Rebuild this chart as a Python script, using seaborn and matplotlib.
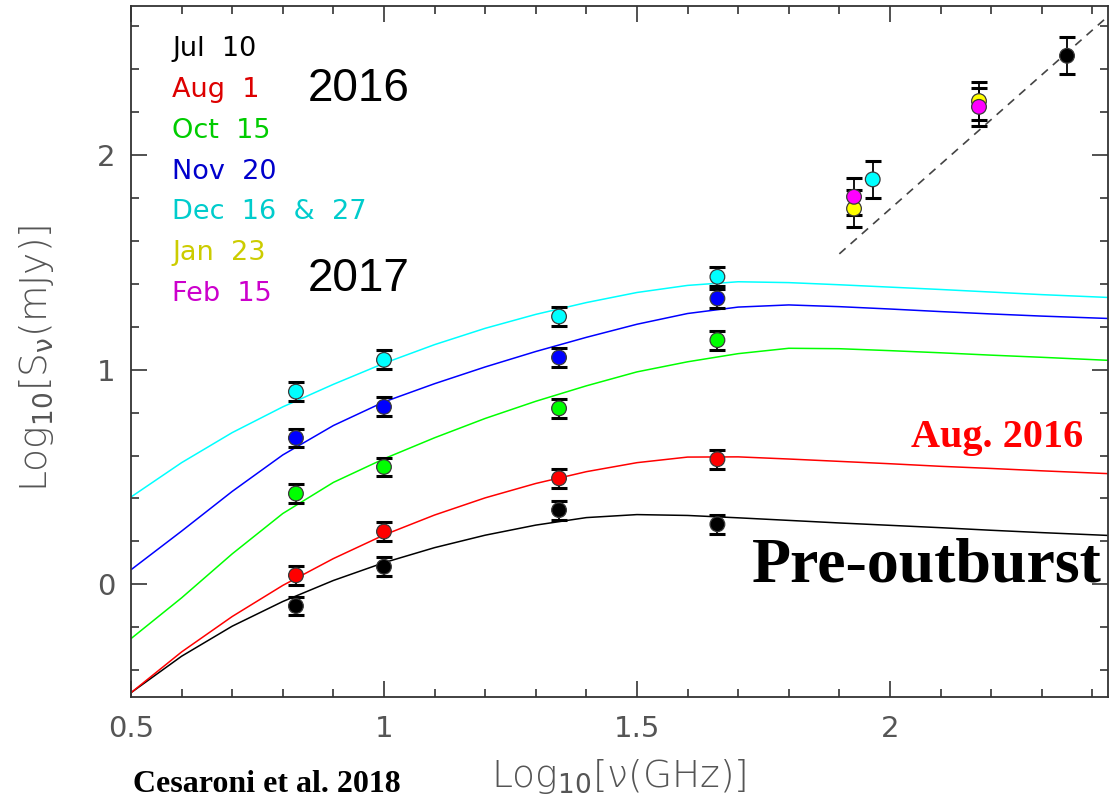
import numpy as np
import pandas as pd
import matplotlib
matplotlib.use("Agg")
import matplotlib.pyplot as plt
from matplotlib.ticker import MultipleLocator
import seaborn as sns

# ---- model spectra: log10(nu/GHz) grid and log10(S/mJy) per epoch ----
model_x = [0.5, 0.6, 0.7, 0.8, 0.9, 1.0, 1.1, 1.2, 1.3, 1.4,
           1.5, 1.6, 1.7, 1.8, 1.9, 2.0, 2.1, 2.2, 2.3, 2.43]
model_jul = [-0.505, -0.335, -0.195, -0.08, 0.018, 0.101, 0.171, 0.229, 0.276, 0.311,
             0.325, 0.321, 0.31, 0.298, 0.286, 0.275, 0.264, 0.252, 0.241, 0.228]
model_aug = [-0.505, -0.315, -0.15, -0.005, 0.12, 0.23, 0.323, 0.403, 0.47, 0.525,
             0.567, 0.593, 0.594, 0.584, 0.573, 0.562, 0.55, 0.54, 0.529, 0.516]
model_oct = [-0.253, -0.063, 0.142, 0.33, 0.475, 0.585, 0.683, 0.773, 0.853, 0.925,
             0.99, 1.037, 1.075, 1.1, 1.098, 1.089, 1.079, 1.068, 1.058, 1.044]
model_nov = [0.068, 0.248, 0.433, 0.603, 0.74, 0.85, 0.935, 1.013, 1.085, 1.151,
             1.212, 1.262, 1.292, 1.302, 1.294, 1.283, 1.271, 1.26, 1.25, 1.239]
model_dec = [0.407, 0.567, 0.707, 0.827, 0.932, 1.03, 1.117, 1.193, 1.258, 1.313,
             1.36, 1.393, 1.41, 1.406, 1.396, 1.385, 1.374, 1.362, 1.35, 1.337]

# ---- measured fluxes ----
jul_x = [0.826, 1.0, 1.346, 1.659, 2.35]
jul_y = [-0.101, 0.082, 0.346, 0.28, 2.463]
jul_err = [0.044, 0.044, 0.044, 0.044, 0.087]
aug_x = [0.826, 1.0, 1.346, 1.659]
aug_y = [0.042, 0.246, 0.494, 0.583]
aug_err = [0.044, 0.044, 0.044, 0.044]
oct_x = [0.826, 1.0, 1.346, 1.659]
oct_y = [0.423, 0.547, 0.82, 1.138]
oct_err = [0.044, 0.044, 0.044, 0.044]
nov_x = [0.826, 1.0, 1.346, 1.659]
nov_y = [0.682, 0.827, 1.057, 1.332]
nov_err = [0.044, 0.044, 0.044, 0.044]
dec_x = [0.826, 1.0, 1.346, 1.659, 1.966]
dec_y = [0.898, 1.046, 1.248, 1.433, 1.887]
dec_err = [0.044, 0.044, 0.044, 0.044, 0.087]
jan_x = [1.929, 2.176]
jan_y = [1.751, 2.252]
jan_err = [0.087, 0.087]
feb_x = [1.929, 2.176]
feb_y = [1.806, 2.225]
feb_err = [0.087, 0.087]

# dust emission slope
dust_x = [1.90, 2.43]
dust_y = [1.54, 2.645]

epoch_names = ["Jul  10", "Aug  1", "Oct  15", "Nov  20", "Dec  16  &  27", "Jan  23", "Feb  15"]
marker_colors = ["#000000", "#ff0000", "#00ff00", "#0000ff", "#00ffff", "#ffff00", "#ff00ff"]
text_colors = ["#000000", "#dd0000", "#00cc00", "#0000cc", "#00cccc", "#cccc00", "#cc00cc"]

x_ticks = [0.5, 1, 1.5, 2]
x_ticklabels = ["0.5", "1", "1.5", "2"]
y_ticks = [0, 1, 2]
y_ticklabels = ["0", "1", "2"]

# ---- long-form tables ----
model_sets = [model_jul, model_aug, model_oct, model_nov, model_dec]
model_df = pd.concat(
    [pd.DataFrame({"lognu": model_x, "logS": ys, "epoch": epoch_names[i]})
     for i, ys in enumerate(model_sets)],
    ignore_index=True)

point_sets = [(jul_x, jul_y, jul_err), (aug_x, aug_y, aug_err), (oct_x, oct_y, oct_err),
              (nov_x, nov_y, nov_err), (dec_x, dec_y, dec_err), (jan_x, jan_y, jan_err),
              (feb_x, feb_y, feb_err)]
point_df = pd.concat(
    [pd.DataFrame({"lognu": xs, "logS": ys, "err": es, "epoch": epoch_names[i]})
     for i, (xs, ys, es) in enumerate(point_sets)],
    ignore_index=True)

palette = dict(zip(epoch_names, marker_colors))

sns.set_style("ticks")
plt.rcParams["font.family"] = ["DejaVu Sans"]
plt.rcParams["text.color"] = "black"

W, H = 1110, 802
fig = plt.figure(figsize=(W / 100, H / 100), dpi=100)
ax = fig.add_axes([131 / W, 1 - 697 / H, (1107.5 - 131) / W, (697 - 6) / H])

sns.lineplot(data=model_df, x="lognu", y="logS", hue="epoch", palette=palette,
             estimator=None, sort=False, legend=False, linewidth=1.1, ax=ax, zorder=2)

ax.plot(dust_x, dust_y, color="#444444", linewidth=1.2, linestyle=(0, (5, 4)), zorder=2)

ax.errorbar(point_df["lognu"], point_df["logS"], yerr=point_df["err"], fmt="none",
            ecolor="black", elinewidth=1.3, capsize=5.5, capthick=2.2, zorder=3)

sns.scatterplot(data=point_df, x="lognu", y="logS", hue="epoch", palette=palette,
                s=112, edgecolor="#3a3a3a", linewidth=0.9, legend=False, ax=ax, zorder=4)

ax.set_xlim(0.5, 2.43)
ax.set_ylim(-0.525, 2.695)
ax.set_xlabel("")
ax.set_ylabel("")

ax.set_xticks(x_ticks)
ax.set_xticklabels(x_ticklabels)
ax.set_yticks(y_ticks)
ax.set_yticklabels(y_ticklabels)
ax.xaxis.set_minor_locator(MultipleLocator(0.1))
ax.yaxis.set_minor_locator(MultipleLocator(0.2))
ax.tick_params(which="both", direction="in", top=True, right=True, color="#333333",
               width=1.2, labelcolor="#555555", labelsize=21)
ax.tick_params(which="major", length=11.5)
ax.tick_params(which="minor", length=5.8)
ax.tick_params(axis="x", which="major", pad=13)
ax.tick_params(axis="y", which="major", pad=11)
for side in ax.spines.values():
    side.set_color("#333333")
    side.set_linewidth(1.3)

# epoch labels
for i, (name, col) in enumerate(zip(epoch_names, text_colors)):
    ax.text(0.581, 2.461 - 0.19 * i, name, color=col, fontsize=19.5,
            ha="left", va="baseline")

ax.text(0.85, 2.251, "2016", fontsize=33, family="Liberation Sans", color="black",
        ha="left", va="baseline")
ax.text(0.85, 1.368, "2017", fontsize=33, family="Liberation Sans", color="black",
        ha="left", va="baseline")
ax.text(2.383, 0.642, "Aug. 2016", fontsize=29, family="Liberation Serif",
        fontweight="bold", color="#ff0000", ha="right", va="baseline")
ax.text(2.419, 0.013, "Pre-outburst", fontsize=46, family="Liberation Serif",
        fontweight="bold", color="black", ha="right", va="baseline", clip_on=False)

fig.text(133 / W, 1 - 792 / H, "Cesaroni et al. 2018", fontsize=23, color="black",
         family="Liberation Serif", fontweight="bold", ha="left", va="baseline")
fig.text(619 / W, 1 - 776 / H, "Log$_{10}$[ν(GHz)]", fontsize=27,
         color="#555555", fontweight="light", ha="center", va="center")
fig.text(37 / W, 1 - 358 / H, r"Log$_{10}$[S$_{\mathrm{\nu}}$(mJy)]", fontsize=27,
         color="#555555", fontweight="light", ha="center", va="center", rotation=90)

fig.savefig("out.png", dpi=100, facecolor="white")
